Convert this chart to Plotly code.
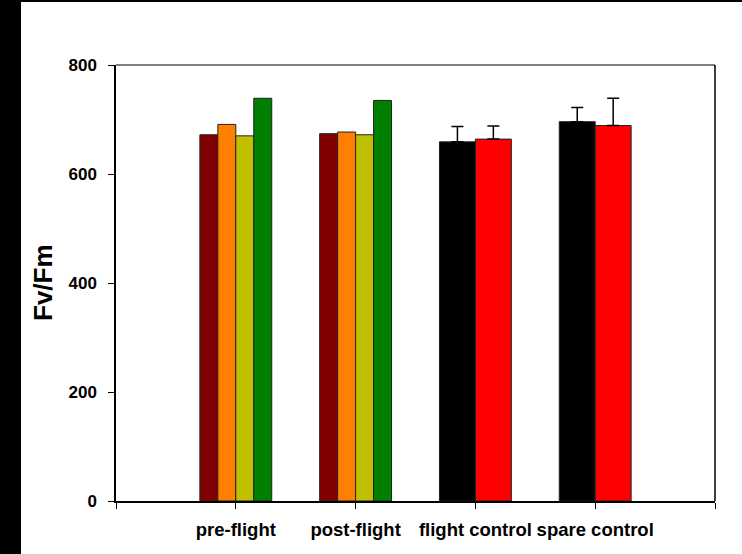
import plotly.graph_objects as go

# ---- data ----
groups = ["pre-flight", "post-flight", "flight control", "spare control"]
group_pos = [1, 2, 3, 4]

# flight samples (4 series) at pre-flight / post-flight
s1_vals = [672, 674]   # dark red
s2_vals = [691, 677]   # orange
s3_vals = [670, 672]   # olive yellow
s4_vals = [739, 735]   # green

# control samples (2 series) at flight control / spare control
c1_vals = [659, 696]   # black
c1_err = [28, 26]
c2_vals = [664, 689]   # red
c2_err = [24, 50]

y_ticks = [0, 200, 400, 600, 800]

# ---- figure ----
fig = go.Figure()
line_style = dict(color="#222222", width=1)

four = [(s1_vals, "#800000"), (s2_vals, "#FF8000"), (s3_vals, "#C0C000"), (s4_vals, "#008000")]
w4 = 0.15
for i, (vals, col) in enumerate(four):
    fig.add_trace(go.Bar(
        x=group_pos[:2], y=vals, width=w4, offset=-0.3 + i * w4,
        marker=dict(color=col, line=line_style), showlegend=False))

two = [(c1_vals, c1_err, "#000000"), (c2_vals, c2_err, "#FF0000")]
w2 = 0.3
for i, (vals, err, col) in enumerate(two):
    fig.add_trace(go.Bar(
        x=group_pos[2:], y=vals, width=w2, offset=-0.3 + i * w2,
        marker=dict(color=col, line=line_style), showlegend=False,
        error_y=dict(type="data", array=err, arrayminus=[0] * len(err), symmetric=False,
                     color="#000000", thickness=1.5, width=6)))

L, R, T, B = 116, 27, 65, 53
W, H = 742, 554
pw, ph = W - L - R, H - T - B

def px_x(p):
    return (p - L) / pw

def px_y(p):
    return (H - B - p) / ph

fig.update_layout(
    width=W, height=H,
    margin=dict(l=L, r=R, t=T, b=B),
    barmode="overlay",
    plot_bgcolor="white", paper_bgcolor="white",
    font=dict(family="Liberation Sans, Arial, sans-serif", color="black"),
    xaxis=dict(
        range=[0, 5], tickmode="array", tickvals=[0] + group_pos + [5],
        ticktext=[""] + ["<b>%s</b>" % g for g in groups] + [""],
        tickfont=dict(size=18.5), ticks="outside", ticklen=6, tickwidth=1, tickcolor="black",
        ticklabelstandoff=5,
        showline=True, linecolor="black", linewidth=2, mirror=False,
        showgrid=False, zeroline=False, fixedrange=True,
    ),
    yaxis=dict(
        range=[0, 800], tickmode="array", tickvals=y_ticks,
        ticktext=["<b>%d</b>" % v for v in y_ticks],
        tickfont=dict(size=17), ticks="outside", ticklen=6, tickwidth=1, tickcolor="black",
        ticklabelstandoff=8,
        showline=True, linecolor="black", linewidth=1.5, mirror=False,
        showgrid=False, zeroline=False, fixedrange=True,
    ),
    annotations=[dict(
        text="<b>Fv/Fm</b>", textangle=-90, x=px_x(43), y=px_y(283),
        xref="paper", yref="paper", showarrow=False, font=dict(size=26),
        xanchor="center", yanchor="middle")],
    shapes=[
        # top and right frame lines
        dict(type="line", xref="paper", yref="paper", x0=0, x1=1, y0=1, y1=1,
             line=dict(color="#555555", width=1.5)),
        dict(type="line", xref="paper", yref="paper", x0=1, x1=1, y0=0, y1=1,
             line=dict(color="black", width=1.5)),
        # black strip on the left edge and top edge of the image
        dict(type="rect", xref="paper", yref="paper", x0=px_x(-5), x1=px_x(21),
             y0=px_y(H + 5), y1=px_y(-5), fillcolor="black", line=dict(width=0), layer="above"),
        dict(type="rect", xref="paper", yref="paper", x0=px_x(-5), x1=px_x(W + 5),
             y0=px_y(2), y1=px_y(-5), fillcolor="black", line=dict(width=0), layer="above"),
    ],
)

fig.write_html("out.html", config={"displayModeBar": False},
               post_script="document.body.style.margin='0';")
